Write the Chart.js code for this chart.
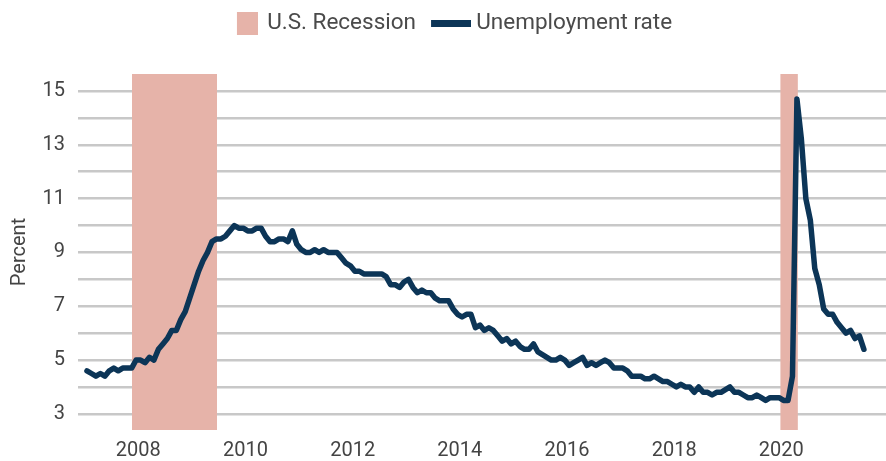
<!DOCTYPE html>
<html>
<head>
<meta charset="utf-8">
<script src="https://cdn.jsdelivr.net/npm/chart.js@4.4.1/dist/chart.umd.min.js"></script>
<style>
  html, body { margin: 0; padding: 0; background: #fff; }
  #wrap { width: 886px; height: 461px; }
</style>
</head>
<body>
<div id="wrap"><canvas id="uChart"></canvas></div>
<script>
// Monthly unemployment rate, Jan 2007 - Jul 2021 (percent)
const startYear = 2007;
const unemployment = [
  4.6, 4.5, 4.4, 4.5, 4.4, 4.6, 4.7, 4.6, 4.7, 4.7, 4.7, 5.0,   // 2007
  5.0, 4.9, 5.1, 5.0, 5.4, 5.6, 5.8, 6.1, 6.1, 6.5, 6.8, 7.3,   // 2008
  7.8, 8.3, 8.7, 9.0, 9.4, 9.5, 9.5, 9.6, 9.8, 10.0, 9.9, 9.9,  // 2009
  9.8, 9.8, 9.9, 9.9, 9.6, 9.4, 9.4, 9.5, 9.5, 9.4, 9.8, 9.3,   // 2010
  9.1, 9.0, 9.0, 9.1, 9.0, 9.1, 9.0, 9.0, 9.0, 8.8, 8.6, 8.5,   // 2011
  8.3, 8.3, 8.2, 8.2, 8.2, 8.2, 8.2, 8.1, 7.8, 7.8, 7.7, 7.9,   // 2012
  8.0, 7.7, 7.5, 7.6, 7.5, 7.5, 7.3, 7.2, 7.2, 7.2, 6.9, 6.7,   // 2013
  6.6, 6.7, 6.7, 6.2, 6.3, 6.1, 6.2, 6.1, 5.9, 5.7, 5.8, 5.6,   // 2014
  5.7, 5.5, 5.4, 5.4, 5.6, 5.3, 5.2, 5.1, 5.0, 5.0, 5.1, 5.0,   // 2015
  4.8, 4.9, 5.0, 5.1, 4.8, 4.9, 4.8, 4.9, 5.0, 4.9, 4.7, 4.7,   // 2016
  4.7, 4.6, 4.4, 4.4, 4.4, 4.3, 4.3, 4.4, 4.3, 4.2, 4.2, 4.1,   // 2017
  4.0, 4.1, 4.0, 4.0, 3.8, 4.0, 3.8, 3.8, 3.7, 3.8, 3.8, 3.9,   // 2018
  4.0, 3.8, 3.8, 3.7, 3.6, 3.6, 3.7, 3.6, 3.5, 3.6, 3.6, 3.6,   // 2019
  3.5, 3.5, 4.4, 14.7, 13.2, 11.0, 10.2, 8.4, 7.8, 6.9, 6.7, 6.7, // 2020
  6.4, 6.2, 6.0, 6.1, 5.8, 5.9, 5.4                             // 2021
];

// Recession periods (decimal years)
const recessions = [
  [2007.88, 2009.47],
  [2019.98, 2020.31]
];

const yearTicks = [2008, 2010, 2012, 2014, 2016, 2018, 2020];
const yTicks = [3, 4, 5, 6, 7, 8, 9, 10, 11, 12, 13, 14, 15];

const xMin = 2006.874, xMax = 2021.954;
const yMin = 2.4, yMax = 15.63;

const navy = '#0c3557';
const pink = '#e6b3a9';

// points at mid-month
const linePoints = unemployment.map((v, i) => ({ x: startYear + (i + 0.5) / 12, y: v }));

// legend swatches (drawn right-aligned in a wider transparent canvas)
function swatch(cw, w, h, color) {
  const c = document.createElement('canvas');
  c.width = cw; c.height = h;
  const g = c.getContext('2d');
  g.fillStyle = color;
  g.fillRect(cw - w, 0, w, h);
  return c;
}
const recSwatch = swatch(41, 21, 23, pink);
const lineSwatch = swatch(49, 40, 7, navy);

const datasets = [{
  label: 'Unemployment rate',
  data: linePoints,
  borderColor: navy,
  backgroundColor: navy,
  borderWidth: 5.5,
  borderJoinStyle: 'round',
  borderCapStyle: 'round',
  pointRadius: 0,
  tension: 0,
  pointStyle: lineSwatch
}];
recessions.forEach(r => {
  datasets.push({
    label: 'U.S. Recession',
    data: [{ x: r[0], y: yMax }, { x: r[1], y: yMax }],
    borderWidth: 0,
    borderColor: pink,
    backgroundColor: pink,
    fill: 'start',
    pointRadius: 0,
    pointStyle: recSwatch
  });
});

const legendHeight = {
  id: 'legendHeight',
  beforeInit(chart) {
    const fit = chart.legend.fit;
    chart.legend.fit = function () {
      fit.bind(chart.legend)();
      this.height = 74;
    };
  }
};

new Chart(document.getElementById('uChart'), {
  type: 'line',
  data: { datasets: datasets },
  options: {
    responsive: true,
    maintainAspectRatio: false,
    animation: false,
    layout: { padding: { left: 5, right: 0, top: 0, bottom: 0 } },
    plugins: {
      tooltip: { enabled: false },
      legend: {
        position: 'top',
        labels: {
          usePointStyle: true,
          pointStyleWidth: 37,
          padding: 12,
          color: '#4a4a4a',
          font: { family: 'Roboto', size: 22.5 },
          filter: item => item.datasetIndex !== 2,
          sort: (a, b) => b.datasetIndex - a.datasetIndex
        }
      }
    },
    scales: {
      x: {
        type: 'linear',
        min: xMin,
        max: xMax,
        afterBuildTicks: s => { s.ticks = yearTicks.map(v => ({ value: v })); },
        afterFit: s => { s.height = 31; },
        grid: { display: false, drawTicks: false },
        border: { display: false },
        ticks: {
          padding: 9,
          color: '#444',
          font: { family: 'Roboto', size: 20 },
          callback: v => String(v)
        }
      },
      y: {
        min: yMin,
        max: yMax,
        afterBuildTicks: s => { s.ticks = yTicks.map(v => ({ value: v })); },
        afterFit: s => { s.width = 73; },
        grid: { color: '#c8c8c8', lineWidth: 2.5, drawTicks: false },
        border: { display: false },
        ticks: {
          padding: 13,
          color: '#444',
          font: { family: 'Roboto', size: 20 },
          callback: v => (v % 2 === 1 ? String(v) : '')
        },
        title: {
          display: true,
          text: 'Percent',
          color: '#444',
          font: { family: 'Roboto', size: 20 },
          padding: { top: 3, bottom: 0 }
        }
      }
    }
  },
  plugins: [legendHeight]
});
</script>
</body>
</html>
